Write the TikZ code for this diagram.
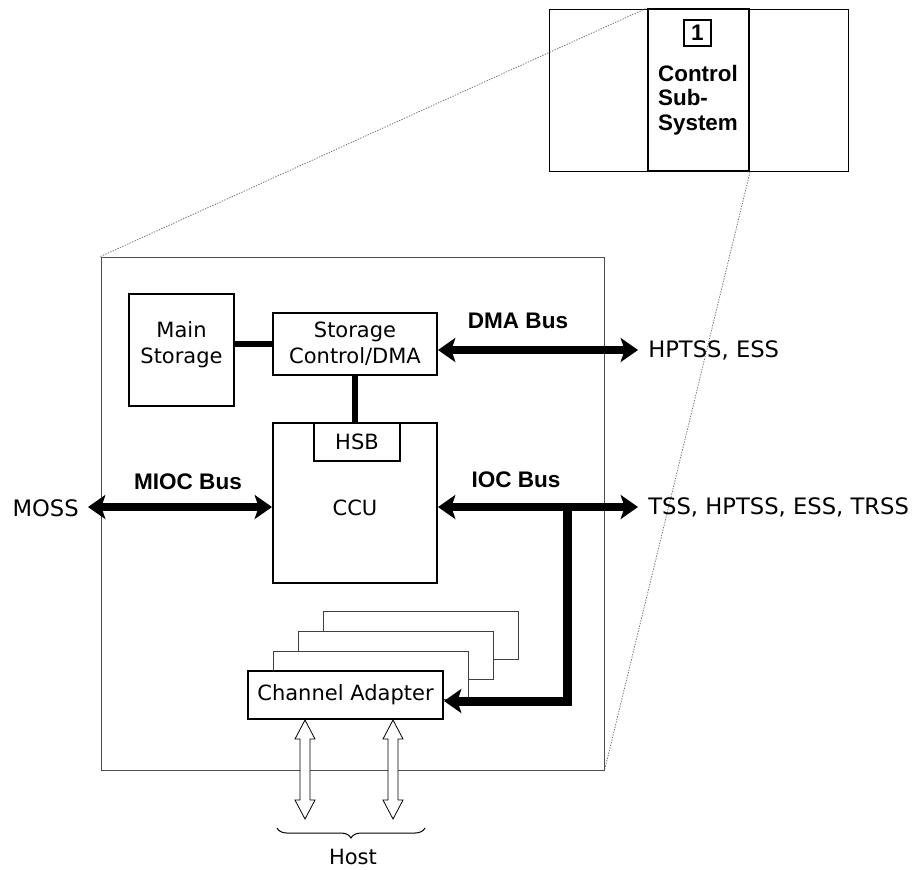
\documentclass[tikz,border=0pt]{standalone}
\usepackage{fontspec}
\setmainfont{DejaVu Sans}
\newfontfamily\boldlbl{Liberation Sans Bold}
\usetikzlibrary{arrows.meta,decorations.pathreplacing,calc}

\tikzset{
  blockbox/.style={draw, line width=1.5pt, fill=white, inner sep=0pt, align=center, font=\fontsize{15.75}{19.5}\selectfont},
  cardbox/.style={draw=black!75, line width=0.75pt, fill=white, inner sep=0pt},
  buslabel/.style={font=\boldlbl\fontsize{16.9}{20}\selectfont},
  plainlabel/.style={inner sep=0pt, font=\fontsize{15.75}{19.5}\selectfont},
  devlabel/.style={inner sep=0pt, font=\fontsize{17}{20}\selectfont},
  bus/.style={line width=6pt, {Stealth[length=13pt,width=18pt,inset=3pt]}-{Stealth[length=13pt,width=18pt,inset=3pt]}},
  branch/.style={line width=6.75pt, line join=miter, -{Stealth[length=13pt,width=18pt,inset=3pt]}},
  link/.style={line width=4pt},
  zoomline/.style={draw=black!55, line width=0.6pt, dash pattern=on 1pt off 1pt},
}

% hollow double arrow between two points
\newcommand{\hollowarrow}[2]{%
  \draw[fill=white, line width=0.6pt] (#1) -- ++(10,19) -- ++(-5,0) -- ($(#2)+(5,-19)$) -- ++(5,0) -- (#2) -- ++(-10,-19) -- ++(5,0) -- ($(#1)+(-5,19)$) -- ++(-5,0) -- cycle;}

\begin{document}
\begin{tikzpicture}[x=0.75pt,y=0.75pt,yscale=-1,xscale=1]
\useasboundingbox (0,0) rectangle (913,869);

%Shape: Rectangle [id:frame]
\node[draw=black!70, line width=0.75pt, minimum width=377.25pt, minimum height=384.75pt, inner sep=0pt] (frame) at (352.5,513.5) {};

%Shape: Rectangle [id:overview]
\draw[line width=0.75pt] (549,9) rectangle (848,171);
\node[draw, line width=1.5pt, minimum width=75.75pt, minimum height=121.5pt, inner sep=0pt] (css) at (698.5,90) {};
\node[draw, line width=1.1pt, minimum width=20.25pt, minimum height=19.5pt, inner sep=0pt, buslabel] (cssnum) at (697.5,33) {1};
% Text Node
\node[buslabel, align=left, font=\boldlbl\fontsize{16.8}{18.6}\selectfont] (csstxt) at (698,100) {Control\\Sub-\\System};

%Straight Lines [id:zoom]
\draw[zoomline] (frame.north west) -- (css.north west);
\draw[zoomline] (css.south east) -- (frame.south east);

%Shape: Rectangle [id:blocks]
\node[blockbox, minimum width=78.75pt, minimum height=84pt] (mainst) at (181.5,350) {};
\node[plainlabel, align=center] (mainsttxt) at (181.5,345) {Main\\Storage};
\node[blockbox, minimum width=123pt, minimum height=46.5pt] (scdma) at (355,344) {Storage\\Control/DMA};
\node[blockbox, minimum width=123pt, minimum height=120pt] (ccu) at (355,503) {};
\node[plainlabel] (ccutxt) at (355,508) {CCU};
\node[blockbox, minimum width=64.5pt, minimum height=28.5pt] (hsb) at (357,442) {HSB};

%Straight Lines [id:links]
\draw[link] (mainst.east |- scdma.west) -- (scdma.west);
\draw[link] (scdma.south) -- (scdma.south |- ccu.north);

%Straight Lines [id:dma]
\coordinate (dmaend) at (638,350);
\draw[bus] (dmaend -| scdma.east) -- (dmaend);
% Text Node
\node[buslabel] (dmalbl) at (518,321) {DMA Bus};
\node[devlabel, anchor=west] (dmadev) at (648,350) {HPTSS, ESS};

%Straight Lines [id:mioc]
\coordinate (mossend) at (88,507);
\draw[bus] (mossend) -- (mossend -| ccu.west);
% Text Node
\node[buslabel] (mioclbl) at (188,482) {MIOC Bus};
\node[devlabel, anchor=east] (moss) at (79,508) {MOSS};

%Straight Lines [id:ioc]
\coordinate (iocend) at (638,507);
\draw[bus] (iocend -| ccu.east) -- (iocend);
% Text Node
\node[buslabel] (ioclbl) at (516,480) {IOC Bus};
\node[devlabel, anchor=west] (iocdev) at (648,507) {TSS, HPTSS, ESS, TRSS};

%Shape: Rectangle [id:adapters]
\foreach \i/\cx/\cy in {4/420.5/635, 3/395.5/655, 2/370.5/675}
  \node[cardbox, minimum width=146.25pt, minimum height=36pt] (ca\i) at (\cx,\cy) {};
\node[blockbox, minimum width=146.25pt, minimum height=36pt] (ca1) at (345.5,695) {Channel Adapter};

%Straight Lines [id:iocbranch]
\coordinate (iocbr) at (567,507);
\coordinate (cabr) at (567,701);
\draw[branch] (iocbr) -- (cabr) -- (cabr -| ca1.east);

%Shape: Arrows [id:host]
\coordinate (h1top) at (305,0 |- ca1.south);
\coordinate (h1bot) at (305,819);
\coordinate (h2top) at (393,0 |- ca1.south);
\coordinate (h2bot) at (393,819);
\hollowarrow{h1top}{h1bot}
\hollowarrow{h2top}{h2bot}

%Shape: Brace [id:hostbrace]
\draw[line width=0.75pt, decorate, decoration={brace, mirror, amplitude=7.5pt}] (277,828) -- (425,828);
% Text Node
\node[plainlabel] (host) at (353,857) {Host};

\end{tikzpicture}
\end{document}
